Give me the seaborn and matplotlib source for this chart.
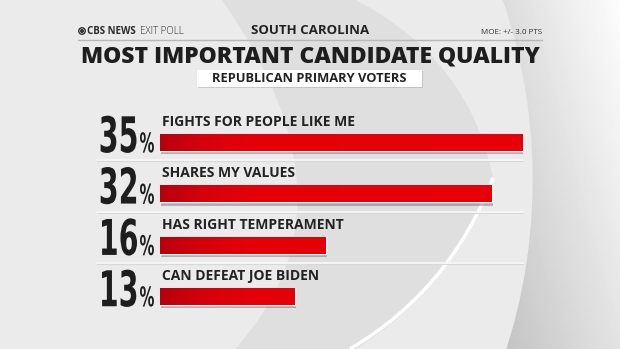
import matplotlib
matplotlib.use("Agg")
import matplotlib.pyplot as plt
import seaborn as sns
import pandas as pd
import numpy as np
from matplotlib import font_manager, transforms
from matplotlib.patches import Ellipse, PathPatch, Rectangle
from matplotlib.path import Path
from matplotlib.transforms import Affine2D
import matplotlib.patheffects as pe
from matplotlib.colors import LinearSegmentedColormap

# ---- data ----
qualities = ["FIGHTS FOR PEOPLE LIKE ME", "SHARES MY VALUES",
             "HAS RIGHT TEMPERAMENT", "CAN DEFEAT JOE BIDEN"]
percents = [35, 32, 16, 13]
state = "SOUTH CAROLINA"
title = "MOST IMPORTANT CANDIDATE QUALITY"
subtitle = "REPUBLICAN PRIMARY VOTERS"
moe = "MOE: +/- 3.0 PTS"
brand_bold = "CBS NEWS"
brand_light = "EXIT POLL"

sns.set_theme(style="white")
names = {f.name for f in font_manager.fontManager.ttflist}


def pick(*cands):
    for n in cands:
        if n in names:
            return n
    return "DejaVu Sans"


SANS = pick("Open Sans", "Lato", "DejaVu Sans")
plt.rcParams["font.family"] = [SANS, "DejaVu Sans"]

W, H = 620, 349
fig = plt.figure(figsize=(6.2, 3.49), dpi=100)


def fx(x):
    return x / W


def fy(y):
    return 1 - y / H


class Squeeze(pe.AbstractPathEffect):
    """Render text horizontally condensed around a fixed x (figure fraction)."""

    def __init__(self, sx, x_fig):
        super().__init__()
        self.sx = sx
        self.x_fig = x_fig

    def draw_path(self, renderer, gc, tpath, affine, rgbFace=None):
        x0 = fig.transFigure.transform((self.x_fig, 0))[0]
        aff = affine + Affine2D().translate(-x0, 0).scale(self.sx, 1).translate(x0, 0)
        renderer.draw_path(gc, tpath, aff, rgbFace)


# ---- background decoration ----
bg = fig.add_axes([0, 0, 1, 1], zorder=0)
bg.set_xlim(0, W)
bg.set_ylim(H, 0)
bg.axis("off")
xs = np.linspace(480, W, 140)
ys = np.linspace(0, H, 120)
XX, YY = np.meshgrid(xs, ys)
shade = 0.74 + 0.15 * (XX - 480) / 140 + 0.10 * (1 - YY / H)
bg.imshow(shade, extent=[480, W, H, 0], cmap="gray", vmin=0, vmax=1, aspect="auto", zorder=0)
bg.add_patch(Rectangle((0, 0), 480, H, color="#e6e6e6", zorder=0))
bg.add_patch(Ellipse((0, 180), 1064, 1088, color="#ebebeb", zorder=1))
# lens-shaped swoosh
verts = [(222, 0), (366, 205), (235, 349), (356, 349),
         (450, 290), (493, 178), (470, 60), (356, 0), (222, 0)]
codes = [Path.MOVETO, Path.CURVE3, Path.CURVE3, Path.LINETO,
         Path.CURVE3, Path.CURVE3, Path.CURVE3, Path.CURVE3, Path.CLOSEPOLY]
bg.add_patch(PathPatch(Path(verts, codes), facecolor="#d6d6d6", edgecolor="none",
                       alpha=0.55, zorder=2))
arc = Path([(493, 178), (450, 290), (350, 349)], [Path.MOVETO, Path.CURVE3, Path.CURVE3])
bg.add_patch(PathPatch(arc, facecolor="none", edgecolor="white", lw=2.5, zorder=3))

# ---- header ----
bg.plot([78, 542], [40, 40], color="#b8b8b8", lw=1, zorder=4)
bg.add_patch(Ellipse((82, 31), 6.5, 6.5, facecolor="none", edgecolor="#333", lw=1.0, zorder=5))
bg.add_patch(Ellipse((82, 31), 2.6, 2.6, color="#333", zorder=5))
fig.text(fx(87), fy(34.5), brand_bold, fontsize=7, fontweight="bold", color="#2a2a2a",
         va="baseline", ha="left")
fig.text(fx(140), fy(34.5), brand_light, fontsize=7, fontweight="light", color="#2a2a2a",
         va="baseline", ha="left")
fig.text(fx(310), fy(34.5), state, fontsize=9.5, fontweight="bold", color="#222",
         va="baseline", ha="center")
fig.text(fx(542), fy(34.5), moe, fontsize=5.8, color="#333", va="baseline", ha="right")
fig.text(fx(310.5), fy(63), title, fontsize=16.5, fontweight="heavy", color="#1e1e1e",
         va="baseline", ha="center")
box = Rectangle((197, 70), 225, 17, facecolor="white", edgecolor="none", zorder=4)
box.set_path_effects([pe.SimplePatchShadow(offset=(1, -1), shadow_rgbFace="#999", alpha=0.4),
                      pe.Normal()])
bg.add_patch(box)
fig.text(fx(309.5), fy(82.3), subtitle, fontsize=9.3, fontweight="bold", color="#222",
         va="baseline", ha="center", zorder=5)

# ---- bars ----
top_px, pitch = 142.5, 51.33
ax_top = top_px - pitch / 2
ax_bot = top_px + pitch * (len(percents) - 0.5)
ax = fig.add_axes([fx(160), fy(ax_bot), 363 / W, (ax_bot - ax_top) / H], zorder=2)
ax.patch.set_alpha(0)

df = pd.DataFrame({"quality": qualities, "pct": percents})
sns.barplot(data=df, x="pct", y="quality", orient="h", color="#e00008",
            width=0.33, ax=ax, saturation=1)
xmax = max(percents)
ax.set_xlim(0, xmax)
ax.set_ylim(len(percents) - 0.5, -0.5)
ax.axis("off")

cm_bar = LinearSegmentedColormap.from_list(
    "b", [(0.0, "#b8000e"), (0.12, "#d6000b"), (0.25, "#e50008"), (1.0, "#e80008")])
for p in ax.patches:
    p.set_path_effects([pe.SimplePatchShadow(offset=(0.5, -2.5), shadow_rgbFace="#444", alpha=0.35),
                        pe.Normal()])
    im = ax.imshow(np.linspace(0, 1, 256)[None, :], extent=[0, xmax, len(percents) - 0.5, -0.5],
                   cmap=cm_bar, aspect="auto", zorder=3)
    im.set_clip_path(p)
ax.set_xlim(0, xmax)
ax.set_ylim(len(percents) - 0.5, -0.5)

trans = transforms.blended_transform_factory(fig.transFigure, ax.transData)
for i, (q, v) in enumerate(zip(qualities, percents)):
    ax.text(fx(162), i - 0.32, q, transform=trans, fontsize=10, fontweight="bold",
            color="#222", va="baseline", ha="left")
    t = ax.text(fx(138.5), i + 0.19, f"{v}", transform=trans, fontsize=35.5, fontweight="bold",
                family="DejaVu Sans", color="#1e1e1e", va="baseline", ha="right")
    t.set_path_effects([Squeeze(0.58, fx(138.5))])
    t2 = ax.text(fx(139.5), i + 0.19, "%", transform=trans, fontsize=19.5, fontweight="bold",
                 family="DejaVu Sans", color="#1e1e1e", va="baseline", ha="left")
    t2.set_path_effects([Squeeze(0.55, fx(139.5))])
    if i < len(percents) - 1:
        ax.plot([fx(97), fx(523)], [i + 0.37, i + 0.37], transform=trans, color="#d8d8d8",
                lw=0.8, clip_on=False, zorder=1)
        ax.plot([fx(97), fx(523)], [i + 0.35, i + 0.35], transform=trans, color="#f7f7f7",
                lw=1.3, clip_on=False, zorder=1)

fig.savefig("out.png", dpi=100)
